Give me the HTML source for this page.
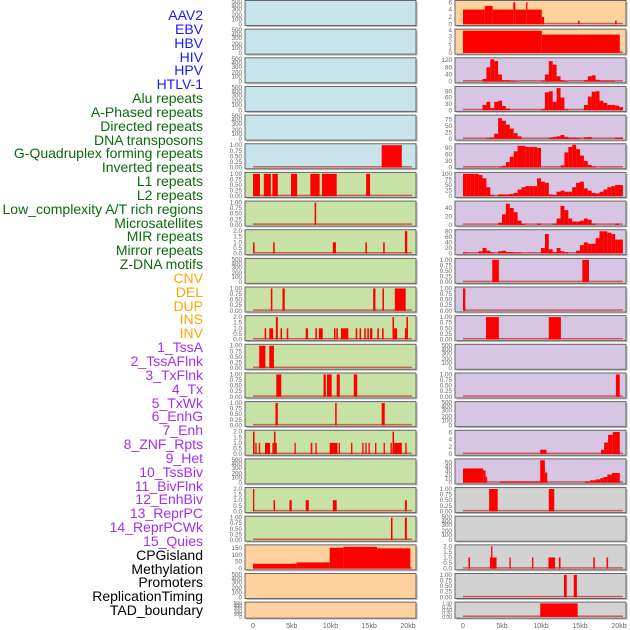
<!DOCTYPE html>
<html><head><meta charset="utf-8"><style>
body{margin:0;background:#fff;width:630px;height:630px;overflow:hidden}
#labels div{position:absolute;right:427px;font:14px "Liberation Sans",sans-serif;white-space:nowrap;line-height:14px}
</style></head><body>
<div id="labels" style="position:absolute;left:0;top:0;width:630px;height:630px"></div>
<svg id="chart" width="630" height="630" style="position:absolute;left:0;top:0" xmlns="http://www.w3.org/2000/svg"></svg>
<script>
// ---- data ----
const trackNames = ["AAV2","EBV","HBV","HIV","HPV","HTLV-1","Alu repeats","A-Phased repeats","Directed repeats","DNA transposons","G-Quadruplex forming repeats","Inverted repeats","L1 repeats","L2 repeats","Low_complexity A/T rich regions","Microsatellites","MIR repeats","Mirror repeats","Z-DNA motifs","CNV","DEL","DUP","INS","INV","1_TssA","2_TssAFlnk","3_TxFlnk","4_Tx","5_TxWk","6_EnhG","7_Enh","8_ZNF_Rpts","9_Het","10_TssBiv","11_BivFlnk","12_EnhBiv","13_ReprPC","14_ReprPCWk","15_Quies","CPGisland","Methylation","Promoters","ReplicationTiming","TAD_boundary"];
const trackGroups = [6,13,5,15,5];
const xTickValues = [0,5,10,15,20];
const xTickLabels = ["0","5kb","10kb","15kb","20kb"];

const L6_bars=[[16.6,19.2,1]];
const L7_bars=[[0,0.9,1],[1.4,2.3,1],[2.5,3.2,1],[4.9,5.7,1],[7.4,8.6,1],[8.9,10.8,1],[14.6,15.1,1]];
const L8_bars=[[7.95,8.15,1]];
const L9_bars=[[0,0.2,1],[2.6,2.8,1],[10.3,10.7,1],[14.5,14.7,1],[16.8,17.0,1],[19.6,19.9,2]];
const L11_bars=[[2.3,2.5,1],[3.8,4.1,1],[15.5,15.8,1],[16.7,16.9,1],[18.3,19.7,1]];
const L12_bars=[[1.5,1.7,1],[2.1,2.6,1],[2.95,3.2,2],[3.55,3.75,1],[4.35,4.55,1],[6.8,7.1,1],[8.05,8.25,1],[8.5,9.0,1],[10.45,10.65,1],[10.75,10.95,1],[11.35,12.3,1],[13.25,13.45,1],[13.75,13.95,1],[14.35,14.55,1],[14.75,14.95,1],[15.1,15.4,1],[16.05,16.25,1],[16.65,16.85,1],[18.0,18.2,2],[18.2,18.6,1],[19.6,19.8,1],[19.8,20.0,2]];
const L13_bars=[[0.8,1.6,1],[2.1,2.7,1]];
const L14_bars=[[3.0,3.65,1],[9.1,9.4,1],[9.55,10.15,1],[10.8,11.2,1],[13.0,13.45,1]];
const L15_bars=[[2.9,3.2,1],[10.6,10.8,1],[16.6,17.0,1]];
const L16_bars=[[0,0.2,2],[0.3,0.45,1],[0.75,0.9,1],[1.55,2.2,1],[2.5,2.7,1],[2.7,2.9,2],[2.9,3.05,1],[5.35,5.5,1],[7.45,7.65,1],[8.05,8.2,1],[9.9,10.9,1],[11.05,11.2,1],[12.65,12.8,1],[14.1,14.25,1],[14.5,14.65,1],[14.9,15.05,1],[15.75,15.9,1],[16.85,17.0,1],[17.75,17.9,1],[18.0,18.2,2],[18.2,19.2,1],[19.65,19.8,1]];
const L18_bars=[[0,0.15,2],[2.65,2.85,1],[4.7,5.0,1],[6.8,7.2,1],[10.3,10.8,1],[19.6,19.85,1]];
const L19_bars=[[17.8,18.0,1],[19.6,19.85,1]];
const L20_bars=[[0,5.6,35],[5.6,9.9,45],[9.9,11.65,151],[11.65,16,158],[16,20.3,147]];

const R1_bars=[[0,2.8,4],[2.8,3.8,5],[3.8,6.45,4],[6.45,6.7,6],[6.7,8.1,4],[8.1,8.25,6],[8.25,10.1,4],[10.1,10.4,2],[14.75,14.95,1],[19.5,19.7,1]];
const R2_bars=[[0,10.1,4],[10.1,20.1,3.3]];
const R3_profile=[0,0,0,0,0,15,80,125,115,40,8,8,5,3,0,0,0,0,0,0,5,40,115,95,30,8,3,0,0,0,0,8,30,35,10,5,5,5,5,0,0];
const R4_profile=[0,0,0,0,0,25,40,10,40,45,20,8,0,0,0,0,0,0,0,0,5,85,90,40,105,60,5,0,0,0,0,25,65,88,90,45,35,25,25,22,15];
const R5_profile=[0,0,0,0,0,0,3,5,20,80,70,55,40,22,10,0,0,0,0,0,0,0,5,8,10,15,8,5,5,3,0,6,7,0,0,0,0,0,0,5,5];
const R6_profile=[0,0,0,0,0,0,0,0,0,3,8,25,50,75,100,100,95,95,95,90,0,0,0,0,0,10,70,95,105,85,55,30,12,5,0,0,0,0,0,0,0];
const R7_profile=[100,100,100,100,95,80,40,5,0,8,8,8,10,15,30,40,45,45,45,80,65,60,8,5,20,25,20,20,40,60,65,35,25,15,12,20,30,40,45,50,50];
const R8_profile=[0,0,0,0,0,0,0,0,0,5,25,50,40,30,10,2,0,0,0,3,0,0,0,3,15,45,35,15,8,8,10,15,12,3,0,0,0,0,0,3,0];
const R9_profile=[3,0,0,0,8,20,10,3,0,8,10,5,5,3,3,0,0,0,0,0,20,70,15,5,20,8,5,0,0,10,30,40,35,35,55,80,80,75,70,50,50];
const R10_bars=[[3.75,4.6,1],[15.3,16.15,1]];
const R11_bars=[[0,0.3,1]];
const R12_bars=[[2.95,4.6,1],[11.0,12.55,1]];
const R14_bars=[[19.6,20.1,1]];
const R16_bars=[[9.9,10.7,1.2],[17.7,18.1,1.2],[18.1,18.6,3.2],[18.6,19.2,5.3],[19.2,20.1,6.1]];
const R17_bars=[[0,2.6,35],[2.6,2.9,30],[2.9,3.1,15],[4.7,9.9,3],[9.9,10.5,55],[10.5,10.8,25],[15.6,16.3,3],[16.3,17.0,6],[17.0,17.6,8],[17.6,18.0,11],[18.0,18.5,14],[18.5,19.1,20],[19.1,20.1,24]];
const R18_bars=[[3.35,4.45,1],[11.0,11.7,1]];
const R20_bars=[[0.7,0.9,1],[3.45,4.3,1],[3.6,3.75,2],[5.95,6.1,1],[8.85,9.0,1],[10.95,11.8,1],[12.3,12.5,1],[16.7,16.9,1],[18.4,18.6,1]];
const R21_bars=[[12.95,13.3,1],[14.2,14.6,1]];
const R22_bars=[[9.9,14.7,1]];

const ticks01=[0,0.25,0.5,0.75,1];
const ticks02=[0,0.5,1,1.5,2];
const ticksEmpty=[0,100,200,300,400,500];

// ---- layout ----
const BG={blue:"#c7e4eb",green:"#c8e1a4",orange:"#fed19f",purple:"#d6c6e3",gray:"#d2d2d2"};
const T01={ticks:ticks01,max:1.02,dec:2}, T02={ticks:ticks02,max:2.04,dec:1};
function P(col,row,bg,opts){return Object.assign({col,row,bg},opts||{});}
const panels=[];
for(let r=0;r<5;r++) panels.push(P(0,r,"blue",{empty:true}));
panels.push(P(0,5,"blue",Object.assign({bars:L6_bars},T01)));
panels.push(P(0,6,"green",Object.assign({bars:L7_bars},T01)));
panels.push(P(0,7,"green",Object.assign({bars:L8_bars},T01)));
panels.push(P(0,8,"green",Object.assign({bars:L9_bars},T02)));
panels.push(P(0,9,"green",{empty:true}));
panels.push(P(0,10,"green",Object.assign({bars:L11_bars},T01)));
panels.push(P(0,11,"green",Object.assign({bars:L12_bars},T02)));
panels.push(P(0,12,"green",Object.assign({bars:L13_bars},T01)));
panels.push(P(0,13,"green",Object.assign({bars:L14_bars},T01)));
panels.push(P(0,14,"green",Object.assign({bars:L15_bars},T01)));
panels.push(P(0,15,"green",Object.assign({bars:L16_bars},T02)));
panels.push(P(0,16,"green",{empty:true}));
panels.push(P(0,17,"green",Object.assign({bars:L18_bars},T02)));
panels.push(P(0,18,"green",Object.assign({bars:L19_bars},T01)));
panels.push(P(0,19,"orange",{bars:L20_bars,ticks:[0,50,100,150],max:165,dec:0}));
panels.push(P(0,20,"orange",{empty:true}));
panels.push(P(0,21,"orange",{empty:true}));
panels.push(P(1,0,"orange",{bars:R1_bars,ticks:[0,2,4,6],max:6.2,dec:0}));
panels.push(P(1,1,"orange",{bars:R2_bars,ticks:[0,1,2,3,4],max:4.1,dec:0}));
panels.push(P(1,2,"purple",{profile:R3_profile,ticks:[0,40,80,120],max:128,dec:0}));
panels.push(P(1,3,"purple",{profile:R4_profile,ticks:[0,30,60,90],max:108,dec:0}));
panels.push(P(1,4,"purple",{profile:R5_profile,ticks:[0,25,50,75],max:88,dec:0}));
panels.push(P(1,5,"purple",{profile:R6_profile,ticks:[0,30,60,90],max:105,dec:0}));
panels.push(P(1,6,"purple",{profile:R7_profile,ticks:[0,25,50,75,100],max:102,dec:0}));
panels.push(P(1,7,"purple",{profile:R8_profile,ticks:[0,20,40],max:54,dec:0}));
panels.push(P(1,8,"purple",{profile:R9_profile,ticks:[0,20,40,60,80],max:82,dec:0}));
panels.push(P(1,9,"purple",Object.assign({bars:R10_bars},T01)));
panels.push(P(1,10,"purple",Object.assign({bars:R11_bars},T01)));
panels.push(P(1,11,"purple",Object.assign({bars:R12_bars},T01)));
panels.push(P(1,12,"purple",{empty:true}));
panels.push(P(1,13,"purple",Object.assign({bars:R14_bars},T01)));
panels.push(P(1,14,"purple",{empty:true}));
panels.push(P(1,15,"purple",{bars:R16_bars,ticks:[0,2,4,6],max:6.3,dec:0}));
panels.push(P(1,16,"purple",{bars:R17_bars,ticks:[0,10,20,30,40,50],max:56,dec:0}));
panels.push(P(1,17,"gray",Object.assign({bars:R18_bars},T01)));
panels.push(P(1,18,"gray",{empty:true}));
panels.push(P(1,19,"gray",Object.assign({bars:R20_bars},T02)));
panels.push(P(1,20,"gray",Object.assign({bars:R21_bars},T01)));
panels.push(P(1,21,"gray",Object.assign({bars:R22_bars},T01)));

const NS="http://www.w3.org/2000/svg";
const svg=document.getElementById("chart");
function mk(tag,attrs,parent){const e=document.createElementNS(NS,tag);for(const k in attrs)e.setAttribute(k,attrs[k]);(parent||svg).appendChild(e);return e;}
const colX=[245,455], colW=171, x0=[253,463], kbPx=[7.75,7.8];
function xScale(col,kb){return x0[col]+kb*kbPx[col];}
function rowTop(r){return 0.5+r*28.65;}
function rowH(r){return r===21?16:25;}
const emptyFrac=[0,0.22,0.4,0.65,0.82,1];

panels.forEach(p=>{
  const top=rowTop(p.row), h=rowH(p.row), left=colX[p.col];
  const g=mk("g",{});
  
  
  mk("rect",{x:left+1.5,y:top+1.5,width:colW,height:h,fill:"#bbb"},g);
  const bg=mk("rect",{x:left,y:top,width:colW,height:h,fill:BG[p.bg],stroke:"#666",'stroke-width':1},g);
  
  
  const yb=top+h-1.2, yt=top+1;
  const yS=v=>yb-(v/p.max)*(yb-yt);
  const tks=p.empty?ticksEmpty:p.ticks;
  tks.forEach((v,i)=>{
    const y=p.empty?(yb-emptyFrac[i]*(yb-yt)):yS(v);
    const t=mk("text",{x:left-3,y:y+2,'text-anchor':'end','font-size':(h<20?5:6.3),fill:"#666",'font-family':'Liberation Sans, sans-serif'},g);
    t.textContent=p.empty?String(v):v.toFixed(p.dec);
    
    
  });
  if(p.empty) return;
  const base=mk("rect",{x:xScale(p.col,0),y:yb-1.5,width:xScale(p.col,20.5)-xScale(p.col,0),height:1.5,fill:"#c83c3c",opacity:0.8},g);
  
  
  const bars=[];
  if(p.bars) p.bars.forEach(b=>bars.push(b));
  if(p.profile) p.profile.forEach((v,i)=>{ if(v>0) bars.push([i*0.5,Math.min((i+1)*0.5,20.5),v]); });
  bars.forEach(b=>{
    const xa=xScale(p.col,b[0]), xb=xScale(p.col,b[1]);
    const y=yS(b[2]);
    const r=mk("rect",{x:xa,y:y,width:Math.max(1.3,xb-xa),height:yb-y,fill:"#ff0000"},g);
    
    
  });
});

[0,1].forEach(col=>{
  xTickValues.forEach((v,i)=>{
    const t=mk("text",{x:xScale(col,v),y:628,'text-anchor':'middle','font-size':7,fill:"#666",'font-family':'Liberation Sans, sans-serif'});
    t.textContent=xTickLabels[i];
    
    
  });
});

const groupColors=["#1a1aff","#0a6b0a","#ffa500","#a32ff0","#000000"];
const lab=document.getElementById("labels");
let gi=0,cnt=0;
trackNames.forEach((n,i)=>{
  const d=document.createElement("div");
  d.textContent=n;
  d.style.top=(8+i*13.84)+"px";
  d.style.color=groupColors[gi];
  
  
  lab.appendChild(d);
  cnt++; if(cnt===trackGroups[gi]){gi++;cnt=0;}
});
</script>
</body></html>
